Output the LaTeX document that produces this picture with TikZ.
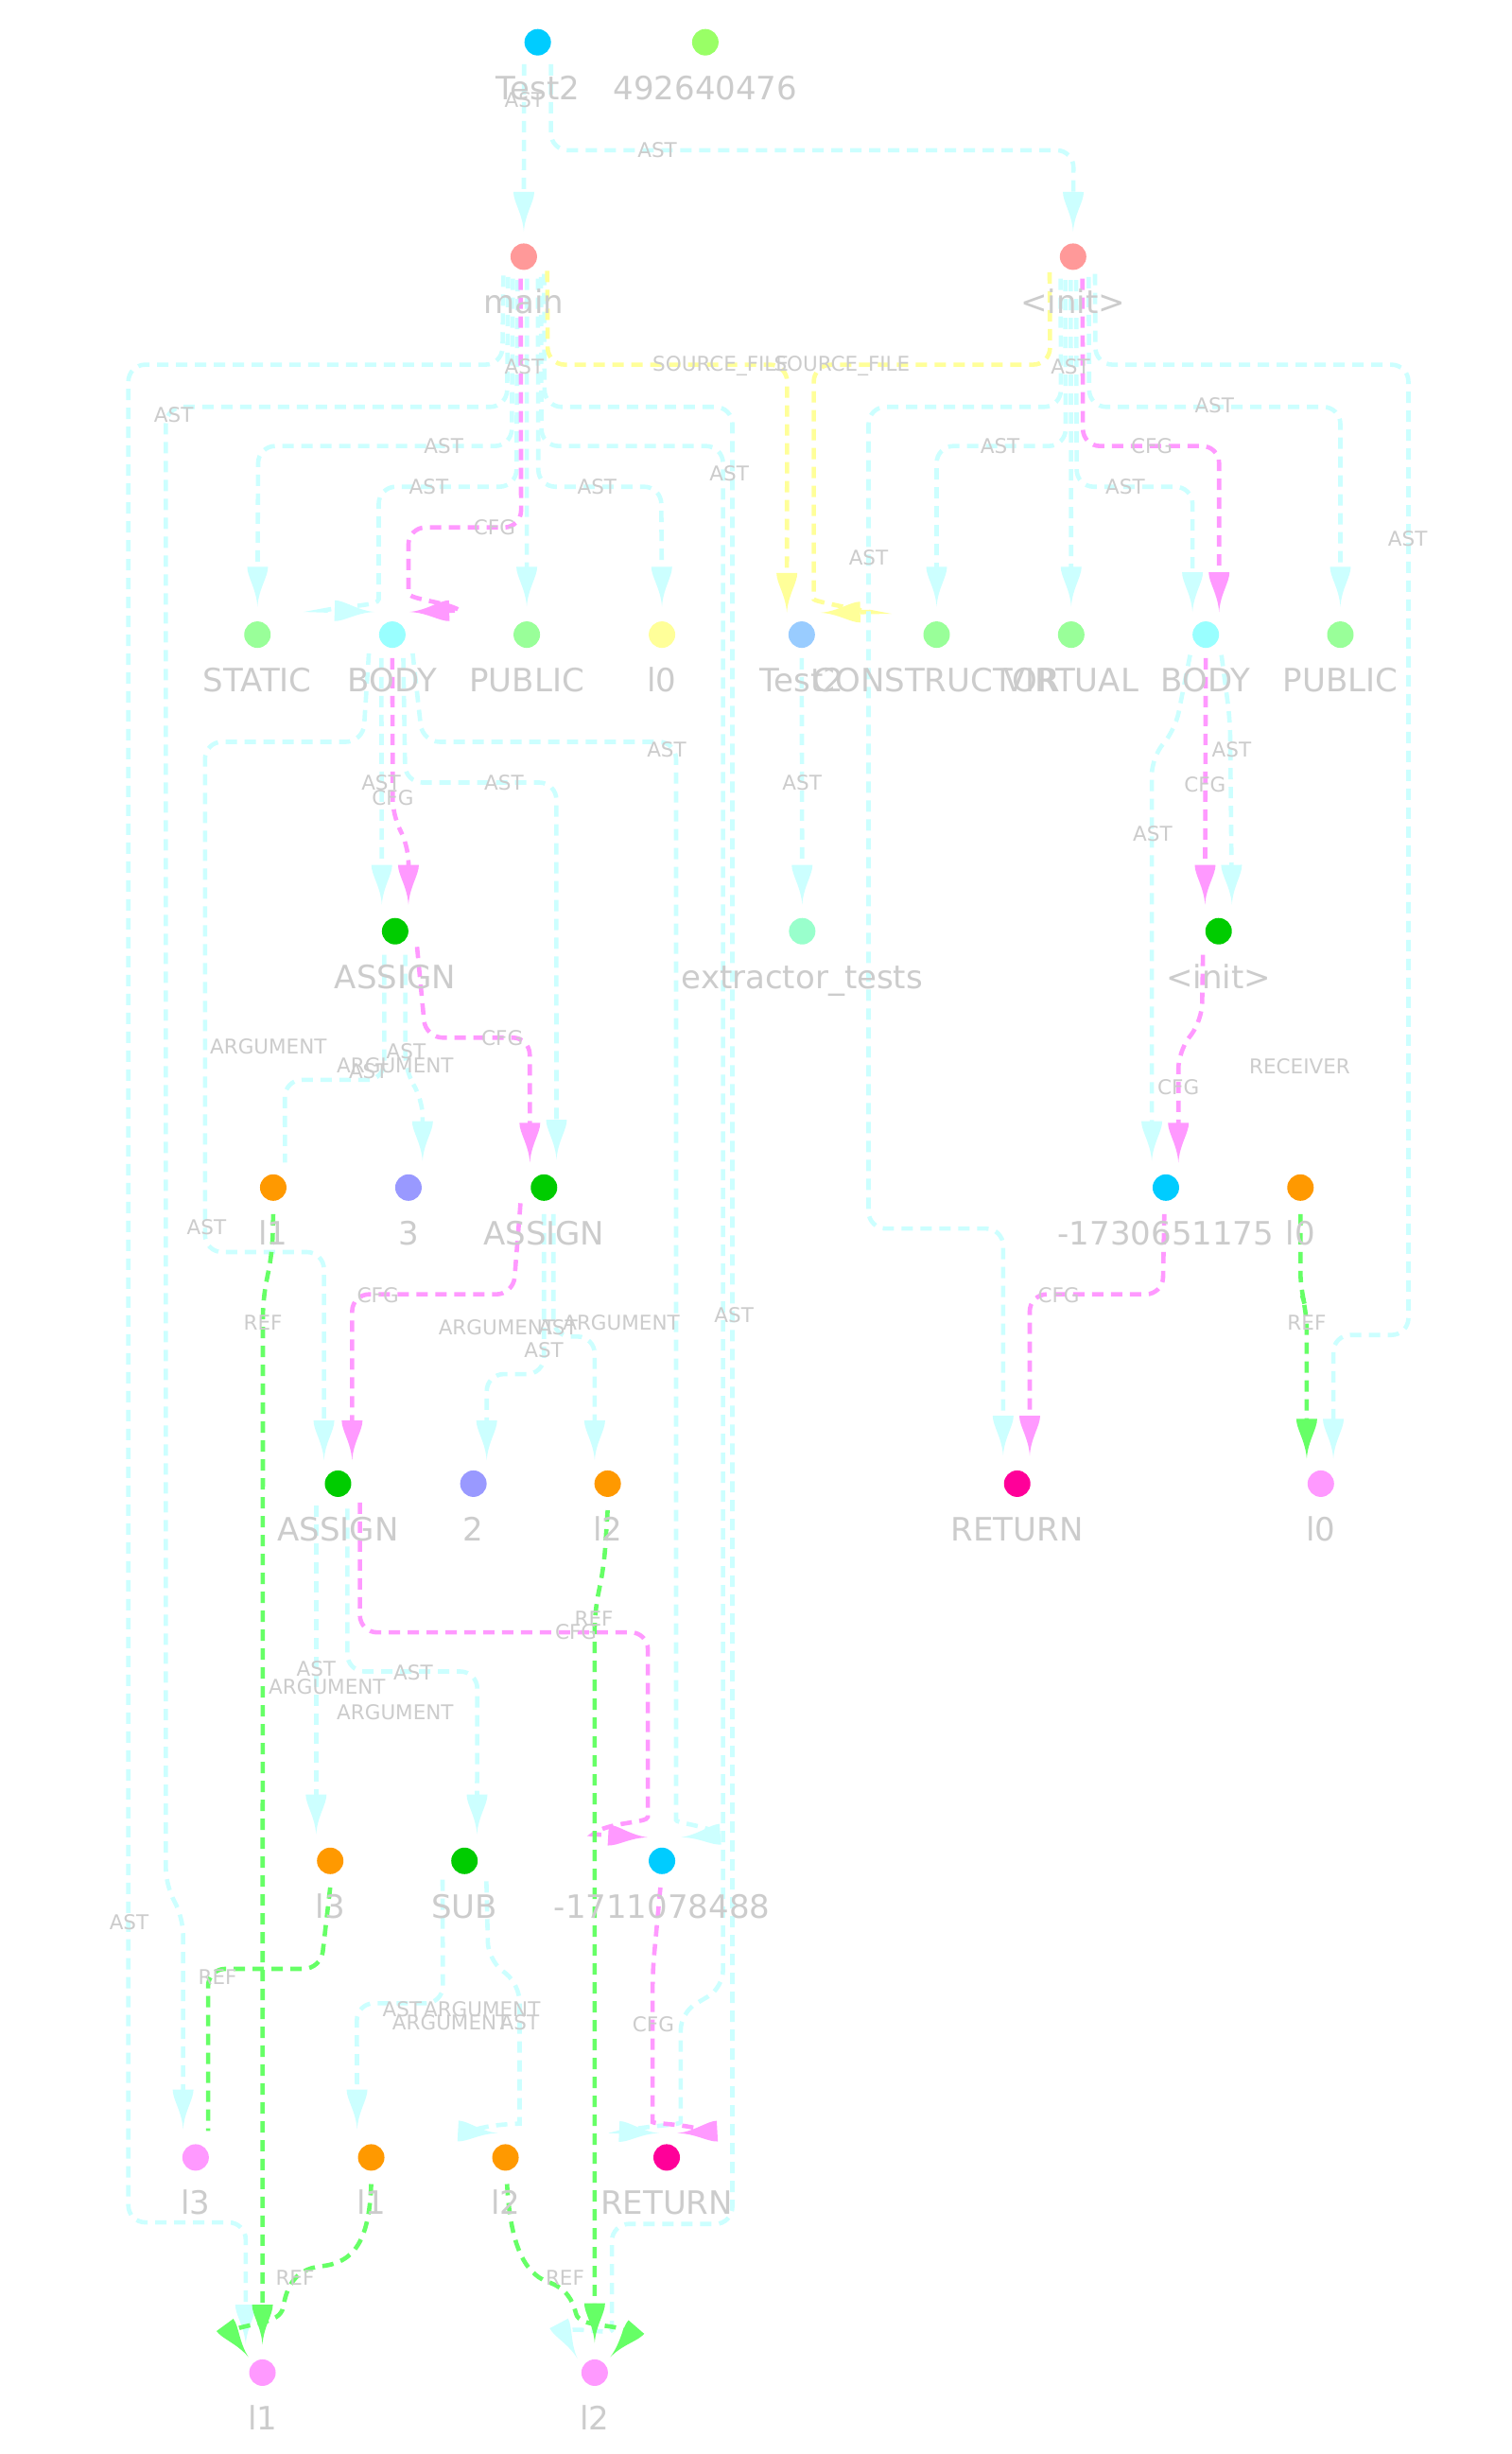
\documentclass[tikz,border=0pt]{standalone}
\usepackage{fontspec}
\setmainfont{DejaVu Sans}
\usetikzlibrary{arrows.meta,calc}

% edge colours
\definecolor{astc}{HTML}{CCFFFF}
\definecolor{cfgc}{HTML}{FF99FF}
\definecolor{refc}{HTML}{66FF66}
\definecolor{srcc}{HTML}{FFFF99}
\definecolor{labgray}{HTML}{CCCCCC}
% node colours
\definecolor{cTeal}{HTML}{00CCFF}
\definecolor{cLime}{HTML}{99FF66}
\definecolor{cSalmon}{HTML}{FF9999}
\definecolor{cMint}{HTML}{99FF99}
\definecolor{cAqua}{HTML}{99FFFF}
\definecolor{cButter}{HTML}{FFFF99}
\definecolor{cSky}{HTML}{99CCFF}
\definecolor{cGreen}{HTML}{00CC00}
\definecolor{cSea}{HTML}{99FFCC}
\definecolor{cOrange}{HTML}{FF9900}
\definecolor{cLav}{HTML}{9999FF}
\definecolor{cMag}{HTML}{FF0099}
\definecolor{cPink}{HTML}{FF99FF}

% arrow head with concave flanks and a flat back
\pgfdeclarearrow{
  name = Spike,
  parameters = {\the\pgfarrowlength,\the\pgfarrowwidth},
  setup code = {
    \pgfarrowssettipend{0pt}
    \pgfarrowssetlineend{-.9\pgfarrowlength}
    \pgfarrowssetbackend{-\pgfarrowlength}
    \pgfarrowssavethe\pgfarrowlength
    \pgfarrowssavethe\pgfarrowwidth
    \pgfarrowsupperhullpoint{-\pgfarrowlength}{.5\pgfarrowwidth}
    \pgfarrowsupperhullpoint{0pt}{0pt}
  },
  drawing code = {
    \pgfsetdash{}{0pt}
    \pgfpathmoveto{\pgfqpoint{0pt}{0pt}}
    \pgfpathcurveto{\pgfqpoint{-.45\pgfarrowlength}{.06\pgfarrowwidth}}{\pgfqpoint{-.75\pgfarrowlength}{.5\pgfarrowwidth}}{\pgfqpoint{-\pgfarrowlength}{.5\pgfarrowwidth}}
    \pgfpathlineto{\pgfqpoint{-\pgfarrowlength}{-.5\pgfarrowwidth}}
    \pgfpathcurveto{\pgfqpoint{-.75\pgfarrowlength}{-.5\pgfarrowwidth}}{\pgfqpoint{-.45\pgfarrowlength}{-.06\pgfarrowwidth}}{\pgfqpoint{0pt}{0pt}}
    \pgfpathclose
    \pgfusepathqfill
  },
  defaults = {length=42pt, width=22pt}
}

\pgfdeclarelayer{bg}
\pgfdeclarelayer{wires}
\pgfsetlayers{bg,wires,main}

% a graph vertex: name, position, fill, caption
\newcommand\gnode[4]{%
  \node[dot,fill=#3] (#1) at (#2) {};
  \node[nlab] (#1t) at ($(#1)+(0,36.5)$) {#4};}
% an edge caption: name, position, text
\newcommand\elabel[3]{\node[elab] (#1) at (#2) {#3};}

\begin{document}
\begin{tikzpicture}[x=1.6553pt,y=-1.6553pt,
  dot/.style={circle,minimum size=28pt,inner sep=0pt},
  nlab/.style={text=labgray,font=\fontsize{34}{40}\selectfont,inner sep=0pt,anchor=base},
  elab/.style={text=labgray,font=\fontsize{21.5}{25}\selectfont,inner sep=0pt},
  lnk/.style={line width=4.6pt,dash pattern=on 12pt off 8pt},
  ast/.style={lnk,draw=astc,-{Spike}},
  astplain/.style={lnk,draw=astc},
  cfg/.style={lnk,draw=cfgc,-{Spike}},
  ref/.style={lnk,draw=refc,-{Spike}},
  refplain/.style={lnk,draw=refc},
  src/.style={lnk,draw=srcc,-{Spike}},
  rc/.style={rounded corners=18pt}]

\useasboundingbox (0,0) rectangle (966,1568);
\begin{pgfonlayer}{bg}
  \fill[white] (0,0) rectangle (966,1568);
\end{pgfonlayer}

% ---------------- vertices ----------------
\gnode{t2}{343.6,27}{cTeal}{Test2}
\gnode{num}{450.7,27}{cLime}{492640476}
\gnode{mainm}{334.7,164}{cSalmon}{main}
\gnode{initm}{685.7,164}{cSalmon}{<init>}

\gnode{static}{164.5,405.5}{cMint}{STATIC}
\gnode{bodyL}{250.7,405.5}{cAqua}{BODY}
\gnode{publicL}{336.6,405.5}{cMint}{PUBLIC}
\gnode{l0p}{423,405.5}{cButter}{l0}
\gnode{t2b}{512.3,405.5}{cSky}{Test2}
\gnode{ctor}{598.5,405.5}{cMint}{CONSTRUCTOR}
\gnode{virt}{684.5,405.5}{cMint}{VIRTUAL}
\gnode{bodyR}{770.5,405.5}{cAqua}{BODY}
\gnode{publicR}{856.5,405.5}{cMint}{PUBLIC}

\gnode{asg1}{252.5,595}{cGreen}{ASSIGN}
\gnode{ext}{512.6,595}{cSea}{extractor\_tests}
\gnode{initc}{778.7,595}{cGreen}{<init>}

\gnode{l1a}{174.6,758.8}{cOrange}{l1}
\gnode{n3}{261,758.8}{cLav}{3}
\gnode{asg2}{347.6,758.8}{cGreen}{ASSIGN}
\gnode{rv1}{745,758.8}{cTeal}{-1730651175}
\gnode{l0a}{831,758.8}{cOrange}{l0}

\gnode{asg3}{216,948}{cGreen}{ASSIGN}
\gnode{n2}{302.5,948}{cLav}{2}
\gnode{l2a}{388.3,948}{cOrange}{l2}
\gnode{ret1}{650,948}{cMag}{RETURN}
\gnode{l0b}{844,948}{cPink}{l0}

\gnode{l3a}{211,1189}{cOrange}{l3}
\gnode{sub}{296.8,1189}{cGreen}{SUB}
\gnode{rv2}{423,1189}{cTeal}{-1711078488}

\gnode{l3b}{125,1378.5}{cPink}{l3}
\gnode{l1b}{237.2,1378.5}{cOrange}{l1}
\gnode{l2b}{323,1378.5}{cOrange}{l2}
\gnode{ret2}{426,1378.5}{cMag}{RETURN}

\gnode{l1c}{167.7,1516}{cPink}{l1}
\gnode{l2c}{380,1516}{cPink}{l2}

% ---------------- connectors ----------------
\begin{pgfonlayer}{wires}
% type declaration
\draw[ast] ($(t2)+(-8.7,14)$) -- ($(mainm)+(0,-16)$);
\draw[ast,rc] ($(t2)+(8.5,14)$) -- (352,96) -- (686,96) -- ($(initm)+(0,-16)$);

% method main
\draw[ast,rc] ($(mainm)+(-13,12)$) -- (321,233) -- (82,233) -- (82,1420) -- (157,1420) -- ($(l1c)+(-10.7,-18)$);
\draw[ast,rc] ($(mainm)+(-10,13)$) -- (324,260) -- (106,260) -- (106,1205) -- (117,1225) -- ($(l3b)+(-8,-18)$);
\draw[ast,rc] ($(mainm)+(-7,14)$) -- (327,285) -- (165,285) -- ($(static)+(0,-18)$);
\draw[ast] ($(mainm)+(-4,15)$) [rc] -- (330,311) -- (242,311) -- (242,372) [sharp corners] .. controls (242,387) and (222,387) .. (207,390) -- ($(bodyL)+(-11.5,-14.5)$);
\draw[ast] ($(mainm)+(2,14)$) -- ($(publicL)+(0,-18)$);
\draw[ast,rc] ($(mainm)+(9,14)$) -- (344,311) -- (422.5,311) -- ($(l0p)+(0,-18)$);
\draw[ast] ($(mainm)+(11,13)$) [rc] -- (346,285) -- (462,285) -- (462,1270) -- (435,1286) -- (435,1345) [sharp corners] .. controls (435,1358) and (412,1358) .. (398,1362) -- ($(ret2)+(-5,-15.5)$);
\draw[ast] ($(mainm)+(13,11)$) [rc] -- (348,260) -- (468,260) -- (468,1421) -- (391,1421) -- (391,1478) [sharp corners] .. controls (391,1492) and (366,1486) .. (360,1490) -- ($(l2c)+(-11,-9)$);
\draw[cfg] ($(mainm)+(-2,14)$) [rc] -- (333,337) -- (261,337) -- (261,368) [sharp corners] .. controls (261,383) and (283,384) .. (294,390) -- ($(bodyL)+(11,-14.5)$);
\draw[src,rc] ($(mainm)+(15,9)$) -- (350,233) -- (503,233) -- ($(t2b)+(-9.5,-14)$);

% constructor <init>
\draw[src] ($(initm)+(-15,10)$) [rc] -- (671,233) -- (520,233) -- (520,372) [sharp corners] .. controls (520,384) and (540,388) .. (556,391) -- ($(t2b)+(12,-14)$);
\draw[ast,rc] ($(initm)+(-8,14)$) -- (678,260) -- (555,260) -- (555,785) -- (641,785) -- ($(ret1)+(-9,-18)$);
\draw[ast,rc] ($(initm)+(-5,15)$) -- (681,285) -- (598.5,285) -- ($(ctor)+(0,-18)$);
\draw[ast] ($(initm)+(-1.5,15)$) -- ($(virt)+(0,-18)$);
\draw[ast,rc] ($(initm)+(2,15)$) -- (688,311) -- (762,311) -- ($(bodyR)+(-8.5,-14.5)$);
\draw[cfg,rc] ($(initm)+(6,14)$) -- (692,285) -- (779,285) -- ($(bodyR)+(8.5,-14.5)$);
\draw[ast,rc] ($(initm)+(10,13)$) -- (696,260) -- (856.5,260) -- ($(publicR)+(0,-18)$);
\draw[ast,rc] ($(initm)+(14,11)$) -- (700,233) -- (900,233) -- (900,853) -- (852,853) -- ($(l0b)+(8,-16)$);

\draw[ast] ($(t2b)+(0,15)$) -- ($(ext)+(0,-17)$);

% block of main
\draw[ast,rc] ($(bodyL)+(-15,12)$) -- (232,474) -- (131,474) -- (131,800) -- (207,800) -- ($(asg3)+(-9,-15)$);
\draw[ast] ($(bodyL)+(-7,15)$) -- ($(asg1)+(-8.5,-17)$);
\draw[cfg,rc] ($(bodyL)+(0,15)$) -- (251,522) -- (261,540) -- ($(asg1)+(8.5,-17)$);
\draw[ast,rc] ($(bodyL)+(7,15)$) -- (259,500) -- (355.5,500) -- ($(asg2)+(8,-18)$);
\draw[ast] ($(bodyL)+(13,12)$) [rc] -- (270,474) -- (432,474) -- (432,1152) [sharp corners] .. controls (432,1165) and (450,1166) .. (460,1172) -- ($(rv2)+(12,-15)$);

% first assignment
\draw[astplain,rc] ($(asg1)+(-7,15)$) -- (245.5,690) -- (182,690) -- ($(l1a)+(7.5,-16)$);
\draw[ast,rc] ($(asg1)+(6.5,15)$) -- (259,685) -- (270,702) -- ($(n3)+(9,-17)$);
\draw[cfg,rc] ($(asg1)+(14,10)$) -- (272,663) -- (338.5,663) -- ($(asg2)+(-9,-16)$);

% second assignment
\draw[cfg,rc] ($(asg2)+(-15,10)$) -- (328,827) -- (225,827) -- ($(asg3)+(9,-15)$);
\draw[ast,rc] ($(asg2)+(0,17)$) -- (347.6,878) -- (311,878) -- ($(n2)+(8.5,-15)$);
\draw[ast,rc] ($(asg2)+(6,17)$) -- (353.6,854) -- (380,854) -- ($(l2a)+(-8.3,-15)$);

% third assignment
\draw[cfg] ($(asg3)+(14,12)$) [rc] -- (230,1043) -- (414,1043) -- (414,1150) [sharp corners] .. controls (414,1165) and (388,1164) .. (379,1172) -- ($(rv2)+(-9,-15)$);
\draw[ast] ($(asg3)+(-14,14)$) -- ($(l3a)+(-9,-17)$);
\draw[ast,rc] ($(asg3)+(6,16)$) -- (222,1068) -- (305,1068) -- ($(sub)+(8,-17)$);

\draw[refplain,rc] ($(l3a)+(0,17)$) -- (205,1258) -- (133,1258) -- ($(l3b)+(8,-17)$);

% subtraction
\draw[ast,rc] ($(sub)+(-14,12)$) -- (283,1280) -- (228,1280) -- ($(l1b)+(-9,-18)$);
\draw[ast] ($(sub)+(14,13)$) [rc] -- (312,1252) -- (332,1268) -- (332,1346) [sharp corners] .. controls (332,1357) and (312,1357) .. (300,1362) -- ($(l2b)+(-5,-15.5)$);

% return statement
\draw[cfg] ($(rv2)+(-1,17)$) [rc] -- (417,1260) -- (417,1345) [sharp corners] .. controls (417,1357) and (440,1357) .. (452,1362) -- ($(ret2)+(7,-15.5)$);

% references to locals
\draw[ref,rc] ($(l2a)+(0,17)$) -- (386,1000) -- (380,1030) -- ($(l2c)+(0,-19)$);
\draw[ref,rc] ($(l1a)+(0,17)$) -- (174,800) -- (168,830) -- ($(l1c)+(0,-18)$);
\draw[ref] ($(l1b)+(0,17)$) .. controls (236,1432) and (226,1446) .. (205,1448) .. controls (188,1450) and (183,1462) .. (181,1474) .. controls (179,1486) and (156,1484) .. (147,1490) -- ($(l1c)+(-9,-10)$);
\draw[ref] ($(l2b)+(1,17)$) .. controls (326,1432) and (334,1452) .. (350,1458) .. controls (362,1462) and (366,1470) .. (368,1478) .. controls (370,1488) and (396,1484) .. (403,1491) -- ($(l2c)+(10,-10)$);
\draw[ref,rc] ($(l0a)+(0,17)$) -- (831,824) -- (835,838) -- ($(l0b)+(-9,-16)$);

% constructor body
\draw[cfg,rc] ($(rv1)+(-1,17)$) -- (743,827) -- (658,827) -- ($(ret1)+(8,-18)$);
\draw[ast,rc] ($(bodyR)+(-10,13)$) -- (751,466) -- (736,484) -- ($(rv1)+(-9,-17)$);
\draw[cfg] ($(bodyR)+(0,15)$) -- ($(initc)+(-8.7,-17)$);
\draw[ast,rc] ($(bodyR)+(10,13)$) -- (786,460) -- ($(initc)+(8.5,-17)$);
\draw[cfg,rc] ($(initc)+(-10,15)$) -- (768,652) -- (753,672) -- ($(rv1)+(8,-16)$);
\end{pgfonlayer}

% ---------------- edge captions ----------------
\elabel{e1}{335,64}{AST}
\elabel{e2}{420,96}{AST}
\elabel{e3}{335,234}{AST}
\elabel{e4}{460.5,234}{SOURCE\_FILE}
\elabel{e5}{538,234}{SOURCE\_FILE}
\elabel{e6}{684,234}{AST}
\elabel{e7}{111,265}{AST}
\elabel{e8}{776,259}{AST}
\elabel{e9}{283.5,285}{AST}
\elabel{e10}{639,285}{AST}
\elabel{e11}{736,285}{CFG}
\elabel{e12}{274,311}{AST}
\elabel{e13}{381.5,311}{AST}
\elabel{e14}{719,311}{AST}
\elabel{e15}{466,302.5}{AST}
\elabel{e16}{316,337}{CFG}
\elabel{e17}{899.5,344}{AST}
\elabel{e18}{555,356}{AST}
\elabel{e19}{426,479}{AST}
\elabel{e20}{787,479}{AST}
\elabel{e21}{243.5,500}{AST}
\elabel{e22}{251,509.5}{CFG}
\elabel{e23}{322,500}{AST}
\elabel{e24}{512.5,500}{AST}
\elabel{e25}{770,501.5}{CFG}
\elabel{e26}{736.5,533}{AST}
\elabel{e27}{171.5,668.5}{ARGUMENT}
\elabel{e28}{321,663}{CFG}
\elabel{e29}{259.5,672}{AST}
\elabel{e30}{252.5,680.5}{ARGUMENT}
\elabel{e31}{235.5,684.5}{AST}
\elabel{e32}{830.5,681.5}{RECEIVER}
\elabel{e33}{753,694.5}{CFG}
\elabel{e34}{132,784}{AST}
\elabel{e35}{241.5,827.5}{CFG}
\elabel{e36}{676.5,827.5}{CFG}
\elabel{e37}{469,840}{AST}
\elabel{e38}{168,845}{REF}
\elabel{e39}{317.5,848}{ARGUMENT}
\elabel{e40}{356.5,848}{AST}
\elabel{e41}{397,845}{ARGUMENT}
\elabel{e42}{347.5,862.5}{AST}
\elabel{e43}{835,845}{REF}
\elabel{e44}{379.5,1034}{REF}
\elabel{e45}{368,1042.5}{CFG}
\elabel{e46}{202,1066}{AST}
\elabel{e47}{264,1068.5}{AST}
\elabel{e48}{209,1078}{ARGUMENT}
\elabel{e49}{252.5,1094}{ARGUMENT}
\elabel{e50}{82.5,1228.5}{AST}
\elabel{e51}{139,1263}{REF}
\elabel{e52}{257,1283.5}{AST}
\elabel{e53}{308,1283.5}{ARGUMENT}
\elabel{e54}{288,1292.5}{ARGUMENT}
\elabel{e55}{332,1292.5}{AST}
\elabel{e56}{417.5,1293.5}{CFG}
\elabel{e57}{188.5,1455.5}{REF}
\elabel{e58}{361,1455.5}{REF}
\end{tikzpicture}
\end{document}
